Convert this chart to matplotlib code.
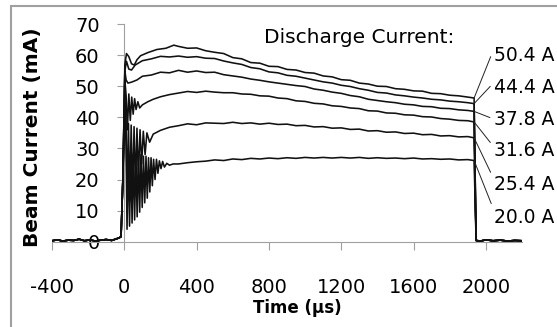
import matplotlib
matplotlib.use("Agg")
import numpy as np
import matplotlib.pyplot as plt
from matplotlib.patches import Rectangle

plt.rcParams['font.family'] = ['DejaVu Sans']
plt.rcParams['axes.unicode_minus'] = False

# baseline before the pulse (shared by all traces)
t_pre = [-400, -370, -340, -310, -280, -250, -220, -190, -160, -130, -100, -70, -45, -30, -18]
i_pre = [0.3, 0.6, 0.2, 0.5, 0.4, 0.8, 0.3, 0.6, 0.2, 0.5, 0.7, 0.4, 0.9, 1.2, 1.6]

# baseline after the pulse
t_post = [1946, 1970, 2000, 2040, 2080, 2120, 2160, 2200]
i_post = [0.4, 0.2, 0.6, 0.3, 0.5, 0.2, 0.4, 0.3]

# flat-top part, sampled every 50 us (shared time base)
t_body = [300, 350, 400, 450, 500, 550, 600, 650, 700, 750, 800, 850, 900, 950,
          1000, 1050, 1100, 1150, 1200, 1250, 1300, 1350, 1400, 1450, 1500, 1550,
          1600, 1650, 1700, 1750, 1800, 1850, 1900, 1935]

# start-up (ringing) part, one per discharge current
t_start_504 = [-8, 3, 12, 25, 40, 55, 70, 90, 130, 180, 230, 274]
i_start_504 = [20, 57, 60.5, 59.5, 57.2, 56.8, 58.5, 59.8, 60.8, 61.8, 62.2, 63.2]
t_start_444 = [-8, 3, 12, 25, 40, 60, 100, 150, 200, 250]
i_start_444 = [20, 55, 58, 55.5, 55.2, 56.8, 58.2, 58.8, 59.6, 59.4]
t_start_378 = [-8, 3, 10, 20, 40, 70, 100, 150, 200, 250]
i_start_378 = [20, 55, 52, 51, 51.3, 52, 53.2, 53.6, 54.5, 54.3]
t_start_316 = [-8, 3, 10, 17, 25, 33, 41, 49, 57, 65, 75, 85, 100, 130, 160, 200, 250]
i_start_316 = [20, 52, 47, 36, 47.5, 39, 46.5, 41, 46, 42.5, 45, 43, 44, 45, 45.8, 46.6, 47.3]
t_start_254 = [-8, 3, 10, 16, 23, 30, 38, 46, 54, 62, 70, 78, 87, 96, 105, 115, 125, 140,
               160, 200, 250]
i_start_254 = [20, 47, 38, 11, 38, 13, 37.5, 15, 37, 18, 36.5, 21, 36, 25, 35.5, 28, 35, 32,
               34.6, 35.8, 36.8]
t_start_200 = [-8, 3, 10, 15, 22, 29, 36, 43, 50, 57, 64, 71, 78, 85, 92, 99, 106, 113, 120,
               127, 134, 141, 148, 155, 162, 170, 178, 186, 194, 203, 212, 222, 235, 250, 270]
i_start_200 = [20, 44, 30, 4, 29, 5, 28.5, 6, 28.5, 7, 28, 8, 28, 9.5, 28, 11, 27.5, 12.5, 27.5,
               14, 27, 16, 27, 18, 26.5, 20, 26.5, 22, 26, 23.5, 25.8, 24, 25.2, 24.6, 25]

# flat-top values
i_body_504 = [62.8, 62.2, 62.3, 61.4, 60.9, 60.5, 59.2, 58.8, 57.6, 57.4, 56.4, 56.3, 55.4,
              55.2, 54.4, 54.2, 53.3, 53.0, 52.1, 51.9, 51.0, 50.7, 50.0, 49.9, 49.2, 49.0,
              48.5, 48.4, 47.7, 47.6, 47.1, 46.9, 46.5, 46.2]
i_body_444 = [59.7, 59.3, 59.5, 59.0, 58.9, 58.1, 57.5, 57.0, 56.0, 55.6, 54.6, 54.3, 53.5,
              53.2, 52.6, 52.0, 51.4, 51.0, 50.3, 49.9, 49.2, 48.7, 48.0, 47.8, 47.2, 46.9,
              46.5, 46.2, 45.8, 45.6, 45.2, 45.0, 44.7, 44.4]
i_body_378 = [55.1, 54.5, 54.9, 54.4, 54.5, 53.7, 53.3, 52.9, 52.3, 51.9, 51.4, 51.0, 50.6,
              50.2, 49.9, 49.1, 48.7, 48.1, 47.7, 47.0, 46.6, 45.8, 45.4, 45.0, 44.7, 44.2,
              44.0, 43.5, 43.4, 42.9, 42.8, 42.4, 42.2, 41.9]
i_body_316 = [47.8, 48.3, 48.0, 48.4, 48.1, 47.9, 47.9, 47.5, 47.4, 46.9, 46.8, 46.2, 46.0,
              45.3, 45.1, 44.5, 44.3, 43.7, 43.5, 43.0, 42.8, 42.1, 42.0, 41.4, 41.3, 40.8,
              40.7, 40.2, 40.1, 39.6, 39.4, 39.0, 38.9, 38.5]
i_body_254 = [37.3, 37.9, 37.6, 38.2, 38.1, 38.0, 38.4, 38.0, 38.2, 37.8, 38.1, 37.7, 37.8,
              37.3, 37.4, 36.9, 37.0, 36.5, 36.6, 36.1, 36.2, 35.6, 35.7, 35.2, 35.3, 34.8,
              34.9, 34.4, 34.5, 34.0, 34.1, 33.7, 33.8, 33.4]
i_body_200 = [25.0, 25.4, 25.7, 25.9, 26.3, 26.1, 26.6, 26.4, 26.8, 26.6, 26.9, 26.7, 27.0,
              26.8, 27.1, 26.9, 27.1, 26.9, 27.1, 26.9, 27.1, 26.8, 27.0, 26.8, 26.9, 26.7,
              26.9, 26.6, 26.7, 26.5, 26.6, 26.3, 26.4, 26.1]

currents = ['50.4 A', '44.4 A', '37.8 A', '31.6 A', '25.4 A', '20.0 A']
label_y = [60.0, 49.7, 39.4, 29.2, 18.5, 7.9]
label_rel = [0.85, 0.75, 0.5, 0.7, 0.75, 0.85]

starts = [(t_start_504, i_start_504), (t_start_444, i_start_444), (t_start_378, i_start_378),
          (t_start_316, i_start_316), (t_start_254, i_start_254), (t_start_200, i_start_200)]
bodies = [i_body_504, i_body_444, i_body_378, i_body_316, i_body_254, i_body_200]

fig = plt.figure(figsize=(5.57, 3.27), dpi=100)
ax = fig.add_axes([52 / 557, 85.3 / 327, 470 / 557, 217.7 / 327])

gray = '#a0a0a0'
for (ts, vs), vb, name, ly, rel in zip(starts, bodies, currents, label_y, label_rel):
    t = t_pre + ts + t_body + t_post
    v = i_pre + vs + vb + i_post
    ax.plot(t, v, color='#111111', lw=1.15, zorder=3)
    ax.annotate(name, xy=(t_body[-1], vb[-1]), xytext=(2045, ly),
                fontsize=13.5, ha='left', va='center', annotation_clip=False,
                arrowprops=dict(arrowstyle='-', color='#222222', lw=0.7,
                                shrinkA=1, shrinkB=0, relpos=(0, rel)))

ax.text(772, 65.8, 'Discharge Current:', fontsize=14.5, ha='left', va='center')

ax.set_xlim(-400, 2200)
ax.set_ylim(0, 70)
ax.set_xticks([-400, 0, 400, 800, 1200, 1600, 2000])
ax.set_yticks(range(0, 71, 10))

for s in ['top', 'right']:
    ax.spines[s].set_visible(False)
ax.spines['left'].set_position(('data', 0))
ax.spines['left'].set_color(gray)
ax.spines['bottom'].set_color(gray)
ax.spines['left'].set_zorder(1)
ax.tick_params(axis='x', direction='out', length=6, color=gray, pad=20, labelsize=14)
ax.tick_params(axis='y', direction='out', length=4.7, color=gray, pad=13, labelsize=14)

ax.set_xlabel('Time (µs)', fontsize=12, fontweight='bold')
ax.set_ylabel('Beam Current (mA)', fontsize=14.5, fontweight='bold')
ax.xaxis.set_label_coords(0.522, -0.262)
ax.yaxis.set_label_coords(-0.022, 0.479)

# outer chart frame (only the left and top edges fall inside the picture)
fig.patches.append(Rectangle((11 / 557, -0.1), 1.2, 1 - 6 / 327 + 0.1, transform=fig.transFigure,
                             fill=False, edgecolor=gray, lw=1.5))

fig.savefig('out.png', dpi=100)
